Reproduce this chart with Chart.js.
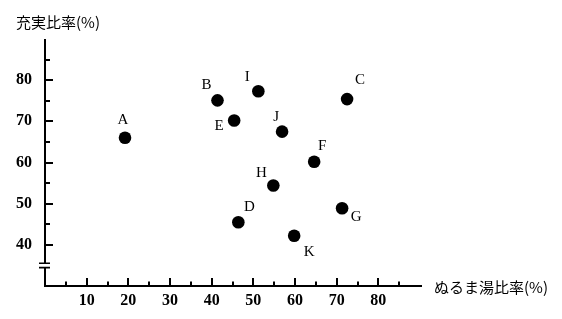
<!DOCTYPE html>
<html>
<head>
<meta charset="utf-8">
<script src="https://cdn.jsdelivr.net/npm/chart.js@4/dist/chart.umd.min.js"></script>
<style>
  html, body { margin: 0; padding: 0; background: #fff; }
  #wrap { width: 562px; height: 319px; }
</style>
</head>
<body>
<div id="wrap"><canvas id="myChart" width="562" height="319"></canvas></div>
<script>
// data
var names = ["A", "B", "C", "D", "E", "F", "G", "H", "I", "J", "K"];
var nurumaRate = [19.2, 41.4, 72.5, 46.4, 45.4, 64.6, 71.3, 54.8, 51.2, 56.9, 59.8];
var juujitsuRate = [66.0, 75.1, 75.4, 45.5, 70.2, 60.2, 48.9, 54.4, 77.3, 67.5, 42.2];
var xTickLabels = [10, 20, 30, 40, 50, 60, 70, 80];
var yTickLabels = [40, 50, 60, 70, 80];

// where each letter sits next to its dot (px)
var labelOffsets = {
	A: [-2, -18], B: [-11, -15], C: [13, -19], D: [11, -15], E: [-15, 6],
	F: [8, -16], G: [14, 9], H: [-12, -12], I: [-11, -14], J: [-6, -15], K: [15, 16]
};

var points = [];
for (var i = 0; i < names.length; i++) {
	points.push({ x: nurumaRate[i], y: juujitsuRate[i] });
}

var jpFont = '15px "Noto Sans CJK JP", "Noto Sans", sans-serif';
var numFont = { family: '"Liberation Serif", "Times New Roman", serif', size: 16, weight: "bold" };

var axesPlugin = {
	id: "axesPlugin",
	afterDraw: function(chart) {
		var ctx = chart.ctx;
		var xs = chart.scales.x, ys = chart.scales.y;
		var left = chart.chartArea.left, bottom = chart.chartArea.bottom, top = chart.chartArea.top;
		var right = xs.getPixelForValue(90) + 2;
		ctx.save();
		ctx.strokeStyle = "#000";
		ctx.lineWidth = 2;

		// x axis
		ctx.beginPath();
		ctx.moveTo(left - 1, bottom);
		ctx.lineTo(right, bottom);
		ctx.stroke();

		// y axis with a break near 35
		var yb = ys.getPixelForValue(35);
		ctx.beginPath();
		ctx.moveTo(left, top);
		ctx.lineTo(left, yb - 2.2);
		ctx.moveTo(left, yb + 2.2);
		ctx.lineTo(left, bottom);
		ctx.stroke();
		ctx.lineWidth = 1.6;
		ctx.beginPath();
		ctx.moveTo(left - 6, yb - 2.2);
		ctx.lineTo(left + 5, yb - 2.2);
		ctx.moveTo(left - 6, yb + 2.2);
		ctx.lineTo(left + 5, yb + 2.2);
		ctx.stroke();

		// tick marks, inside the plot
		ctx.lineWidth = 2;
		ctx.beginPath();
		for (var v = 5; v < 90; v += 5) {
			var px = Math.round(xs.getPixelForValue(v));
			var len = (v % 10 === 0) ? 8 : 4.5;
			ctx.moveTo(px, bottom);
			ctx.lineTo(px, bottom - len);
		}
		for (var w = 40; w < 90; w += 5) {
			var py = Math.round(ys.getPixelForValue(w));
			var len2 = (w % 10 === 0) ? 8 : 5;
			ctx.moveTo(left, py);
			ctx.lineTo(left + len2, py);
		}
		ctx.stroke();

		// axis titles
		ctx.fillStyle = "#000";
		ctx.font = jpFont;
		ctx.textAlign = "left";
		ctx.textBaseline = "middle";
		ctx.fillText("充実比率(%)", 16, 22);
		ctx.fillText("ぬるま湯比率(%)", 434, bottom + 1);

		// point letters
		ctx.font = '15px "Liberation Serif", "Times New Roman", serif';
		ctx.textAlign = "center";
		var meta = chart.getDatasetMeta(0);
		for (var k = 0; k < names.length; k++) {
			var el = meta.data[k];
			var off = labelOffsets[names[k]];
			ctx.fillText(names[k], el.x + off[0], el.y + off[1]);
		}
		ctx.restore();
	}
};

var ctx = document.getElementById("myChart");

var myChart = new Chart(ctx, {
	type: "scatter",
	data: {
		datasets: [
			{
				label: "ぬるま湯比率と充実比率",
				data: points,
				backgroundColor: "#000",
				borderColor: "#000",
				borderWidth: 0,
				pointRadius: 6.3,
				pointHoverRadius: 6.3
			}
		]
	},
	options: {
		responsive: false,
		animation: false,
		layout: { padding: { top: 39, right: 142, left: 0, bottom: 0 } },
		plugins: {
			legend: { display: false },
			tooltip: { enabled: false }
		},
		scales: {
			x: {
				type: "linear",
				min: 0,
				max: 90,
				grid: { display: false, drawTicks: false },
				border: { display: false },
				afterFit: function(scale) { scale.height = 33; },
				ticks: {
					stepSize: 10,
					autoSkip: false,
					maxRotation: 0,
					padding: 5,
					color: "#000",
					font: numFont,
					callback: function(value) {
						return xTickLabels.indexOf(value) >= 0 ? value : "";
					}
				}
			},
			y: {
				type: "linear",
				min: 30,
				max: 90,
				grid: { display: false, drawTicks: false },
				border: { display: false },
				afterFit: function(scale) { scale.width = 45; },
				ticks: {
					stepSize: 10,
					autoSkip: false,
					padding: 13,
					color: "#000",
					font: numFont,
					callback: function(value) {
						return yTickLabels.indexOf(value) >= 0 ? value : "";
					}
				}
			}
		}
	},
	plugins: [axesPlugin]
});
</script>
</body>
</html>
